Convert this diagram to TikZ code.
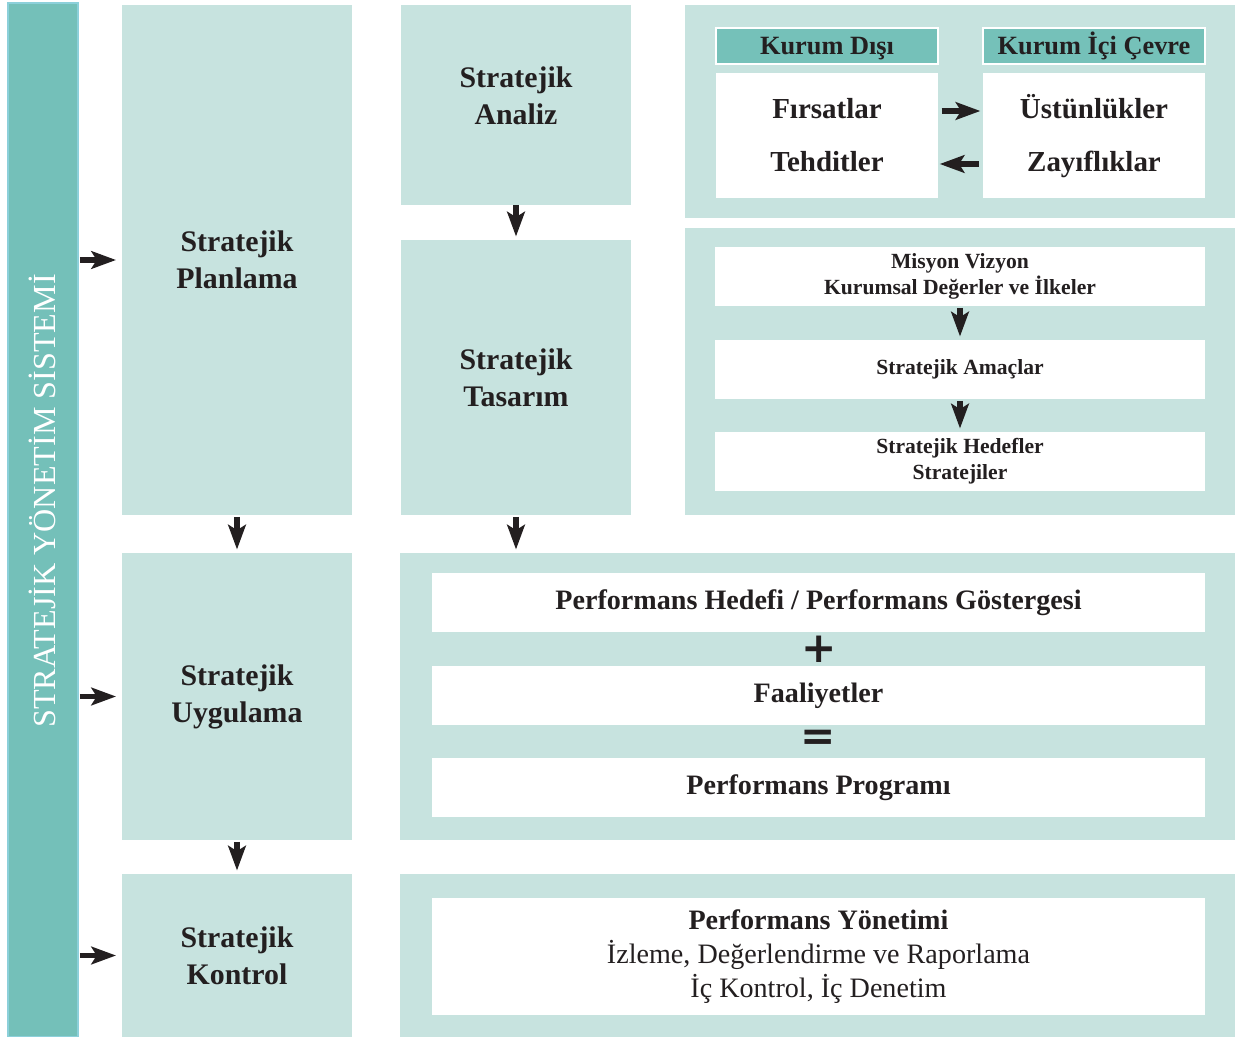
\documentclass[tikz,border=0pt]{standalone}
\usepackage{fontspec}
\setmainfont{Liberation Serif}
\newfontfamily\symfont{DejaVu Sans}
\usetikzlibrary{arrows.meta}

\newcommand\pxu{0.02cm}
\definecolor{barteal}{RGB}{116,192,185}
\definecolor{baredge}{RGB}{140,208,218}
\definecolor{pale}{RGB}{199,227,223}
\definecolor{headteal}{RGB}{117,193,185}
\definecolor{ink}{RGB}{35,31,32}

\tikzset{
    box/.style={anchor=north west, inner sep=0pt, outer sep=0pt, align=center, text=ink},
    wh/.style 2 args={minimum width=#1*\pxu, minimum height=#2*\pxu},
    panel/.style={box, fill=pale},
    card/.style={box, fill=white},
    head/.style={box, fill=headteal, draw=white, line width=1pt,
        text height=11pt, text depth=1.3pt,
        font=\fontsize{15}{18}\selectfont\bfseries},
    stage/.style={font=\fontsize{17}{21}\selectfont\bfseries},
    swot/.style={text=ink, inner sep=0pt, text height=12pt, text depth=4pt,
        font=\fontsize{16.5}{20}\selectfont\bfseries},
    small/.style={font=\fontsize{12.3}{14.7}\selectfont\bfseries},
    perfline/.style={font=\fontsize{16}{19}\selectfont\bfseries},
    sign/.style={text=ink, font=\symfont\fontsize{24}{24}\selectfont\bfseries},
    arr/.style={draw=ink, line width=3pt, shorten >=2pt,
        -{Stealth[length=14pt, width=10pt, inset=3pt]}},
}

\begin{document}
\begin{tikzpicture}[
        x=\pxu, y=-\pxu,
    ]
    \useasboundingbox (0,0) rectangle (1235,1037);

    \node[box, wh={70}{1034}, fill=barteal, draw=baredge, line width=1pt] (bar) at (8,3) {};
    \node[rotate=90, text=white, font=\fontsize{18.3}{18}\selectfont] (bartext) at (42,501)
        {STRATEJİK YÖNETİM SİSTEMİ};

    \node[panel, stage, wh={230}{510}] (plan) at (122,5) {Stratejik\\Planlama};
    \node[panel, stage, wh={230}{287}] (uyg) at (122,553) {Stratejik\\Uygulama};
    \node[panel, stage, wh={230}{163}] (kont) at (122,874) {Stratejik\\Kontrol};

    \node[panel, stage, wh={230}{200}, text depth=11pt] (analiz) at (401,5) {Stratejik\\Analiz};
    \node[panel, stage, wh={230}{275}] (tasarim) at (401,240) {Stratejik\\Tasarım};

    % SWOT
    \node[panel, wh={550}{213}] (swotpanel) at (685,5) {};
    \node[head, wh={222}{36}] (dis) at (716,28) {Kurum Dışı};
    \node[head, wh={222}{36}] (ic) at (983,28) {Kurum İçi Çevre};
    \node[card, wh={222}{125}] (discard) at (716,73) {};
    \node[card, wh={222}{125}] (iccard) at (983,73) {};
    \node[swot] (firsat) at (827,111) {Fırsatlar};
    \node[swot] (tehdit) at (827,164) {Tehditler};
    \node[swot] (ustun) at (1094,111) {Üstünlükler};
    \node[swot] (zayif) at (1094,164) {Zayıflıklar};

    % misyon
    \node[panel, wh={550}{287}] (mispanel) at (685,228) {};
    \node[card, small, wh={490}{59}] (misyon) at (715,247) {Misyon Vizyon\\Kurumsal Değerler ve İlkeler};
    \node[card, small, wh={490}{59}] (amac) at (715,340) {Stratejik Amaçlar};
    \node[card, small, wh={490}{59}] (hedef) at (715,432) {Stratejik Hedefler\\Stratejiler};

    % performans
    \node[panel, wh={835}{287}] (perf) at (400,553) {};
    \node[card, perfline, wh={773}{59}] (perfhedef) at (432,573) {Performans Hedefi / Performans Göstergesi};
    \node[card, perfline, wh={773}{59}] (faal) at (432,666) {Faaliyetler};
    \node[card, perfline, wh={773}{59}] (prog) at (432,758) {Performans Programı};
    \node[sign] (plus) at (819,649) {+};
    \node[sign] (equal) at (818,740) {=};

    \node[panel, wh={835}{163}] (kontpanel) at (400,874) {};
    \node[card, font=\fontsize{16}{19.3}\selectfont, wh={773}{117}] (pyon) at (432,898)
        {\textbf{Performans Yönetimi}\\İzleme, Değerlendirme ve Raporlama\\İç Kontrol, İç Denetim};

    \draw[arr, shorten <=1pt, shorten >=3.4pt] (bar.east |- plan.west) -- (plan.west);
    \draw[arr, shorten <=1pt, shorten >=3.4pt] (bar.east |- uyg.west) -- (uyg.west);
    \draw[arr, shorten <=1pt, shorten >=3.4pt] (bar.east |- kont.west) -- (kont.west);
    \draw[arr, shorten <=1pt] (plan.south) -- (uyg.north);
    \draw[arr, shorten <=1pt] (uyg.south) -- (kont.north);
    \draw[arr] (analiz.south) -- (tasarim.north);
    \draw[arr, shorten <=1pt] (tasarim.south) -- (tasarim.south |- perf.north);

    \draw[arr, shorten <=2pt, shorten >=1.5pt] (discard.east |- firsat) -- (iccard.west |- firsat);
    \draw[arr, shorten <=2.5pt, shorten >=1pt] (iccard.west |- tehdit) -- (discard.east |- tehdit);

    \draw[arr, shorten <=1pt] (misyon.south) -- (amac.north);
    \draw[arr, shorten <=1pt] (amac.south) -- (hedef.north);
\end{tikzpicture}
\end{document}
